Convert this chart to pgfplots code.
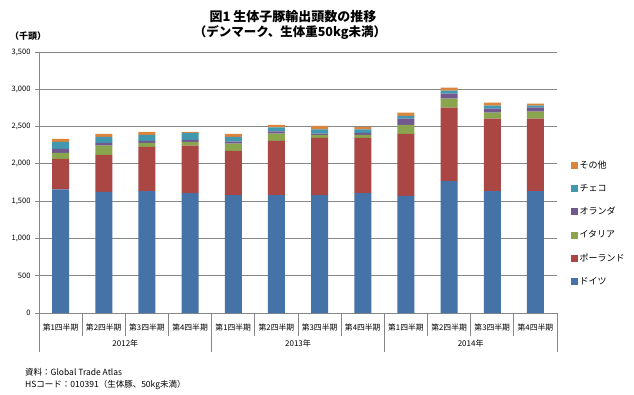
\documentclass[border=0pt]{standalone}
\usepackage{pgfplots}
\pgfplotsset{compat=1.18}
\usepackage{fontspec}
\setmainfont{Noto Sans CJK JP}
\definecolor{c1}{HTML}{4572A7}
\definecolor{c2}{HTML}{AA4643}
\definecolor{c3}{HTML}{89A54E}
\definecolor{c4}{HTML}{71588F}
\definecolor{c5}{HTML}{4198AF}
\definecolor{c6}{HTML}{DB843D}
\definecolor{axgray}{HTML}{868686}
\begin{document}
\begin{tikzpicture}
\path[use as bounding box] (0,0) rectangle (634pt,394pt);
\begin{axis}[
  at={(39pt,81pt)}, anchor=south west,
  scale only axis, width=518pt, height=261pt,
  ybar stacked, bar width=17pt,
  xmin=-0.5, xmax=11.5, ymin=0, ymax=3500,
  clip=false,
  axis x line*=bottom, axis y line*=left,
  axis line style={draw=axgray, line width=0.8pt},
  ytick={0,500,...,3500},
  ymajorgrids, grid style={draw=axgray, line width=0.8pt},
  tick align=outside,
  ytick style={draw=axgray, line width=0.8pt},
  major tick length=4pt,
  /pgf/number format/assume math mode=true,
  /pgf/number format/1000 sep={,},
  yticklabel style={font=\fontsize{7.5}{8}\selectfont, xshift=-1pt},
  xtick={0,...,11},
  xticklabels={第1四半期,第2四半期,第3四半期,第4四半期,第1四半期,第2四半期,第3四半期,第4四半期,第1四半期,第2四半期,第3四半期,第4四半期},
  xticklabel style={font=\fontsize{7.8}{9}\selectfont, yshift=-3pt},
  x tick style={draw=none},
  legend style={draw=none, fill=none, at={(rel axis cs:1.02,0.60)}, anchor=north west,
    font=\fontsize{9}{10}\selectfont, row sep=10.5pt},
  legend cell align=left,
  reverse legend,
  legend image code/.code={\fill[#1] (0pt,-3.5pt) rectangle (7pt,3.5pt);},
]
\addplot[fill=c1, draw=none] coordinates {(0,1658) (1,1625) (2,1635) (3,1608) (4,1581) (5,1581) (6,1581) (7,1608) (8,1571) (9,1770) (10,1635) (11,1635)};
\addplot[fill=c2, draw=none] coordinates {(0,408) (1,495) (2,593) (3,637) (4,593) (5,728) (6,768) (7,741) (8,832) (9,983) (10,970) (11,970)};
\addplot[fill=c3, draw=none] coordinates {(0,81) (1,125) (2,54) (3,50) (4,98) (5,98) (6,41) (7,41) (8,121) (9,122) (10,81) (11,95)};
\addplot[fill=c4, draw=none] coordinates {(0,54) (1,37) (2,27) (3,27) (4,27) (5,27) (6,17) (7,27) (8,81) (9,67) (10,54) (11,53)};
\addplot[fill=c5, draw=none] coordinates {(0,94) (1,80) (2,81) (3,95) (4,63) (5,54) (6,54) (7,44) (8,40) (9,41) (10,40) (11,27)};
\addplot[fill=c6, draw=none] coordinates {(0,41) (1,41) (2,40) (3,13) (4,41) (5,36) (6,50) (7,36) (8,41) (9,40) (10,41) (11,27)};
\legend{ドイツ,ポーランド,イタリア,オランダ,チェコ,その他}
\draw[axgray, line width=0.8pt] (axis cs:0.5,0) -- ([yshift=-23pt]axis cs:0.5,0);
\draw[axgray, line width=0.8pt] (axis cs:1.5,0) -- ([yshift=-23pt]axis cs:1.5,0);
\draw[axgray, line width=0.8pt] (axis cs:2.5,0) -- ([yshift=-23pt]axis cs:2.5,0);
\draw[axgray, line width=0.8pt] (axis cs:4.5,0) -- ([yshift=-23pt]axis cs:4.5,0);
\draw[axgray, line width=0.8pt] (axis cs:5.5,0) -- ([yshift=-23pt]axis cs:5.5,0);
\draw[axgray, line width=0.8pt] (axis cs:6.5,0) -- ([yshift=-23pt]axis cs:6.5,0);
\draw[axgray, line width=0.8pt] (axis cs:8.5,0) -- ([yshift=-23pt]axis cs:8.5,0);
\draw[axgray, line width=0.8pt] (axis cs:9.5,0) -- ([yshift=-23pt]axis cs:9.5,0);
\draw[axgray, line width=0.8pt] (axis cs:10.5,0) -- ([yshift=-23pt]axis cs:10.5,0);
\draw[axgray, line width=0.8pt] (axis cs:-0.5,0) -- ([yshift=-39pt]axis cs:-0.5,0);
\draw[axgray, line width=0.8pt] (axis cs:3.5,0) -- ([yshift=-39pt]axis cs:3.5,0);
\draw[axgray, line width=0.8pt] (axis cs:7.5,0) -- ([yshift=-39pt]axis cs:7.5,0);
\draw[axgray, line width=0.8pt] (axis cs:11.5,0) -- ([yshift=-39pt]axis cs:11.5,0);
\node[font=\fontsize{8}{9}\selectfont] at ([yshift=-30pt]axis cs:1.5,0) {2012年};
\node[font=\fontsize{8}{9}\selectfont] at ([yshift=-30pt]axis cs:5.5,0) {2013年};
\node[font=\fontsize{8}{9}\selectfont] at ([yshift=-30pt]axis cs:9.5,0) {2014年};
\end{axis}
\node[font=\bfseries\fontsize{13}{15}\selectfont] at (293pt,377pt) {図1\ 生体子豚輸出頭数の推移};
\node[font=\bfseries\fontsize{12.5}{15}\selectfont] at (290pt,361pt) {（デンマーク、生体重50kg未満）};
\node[font=\bfseries\fontsize{9}{10}\selectfont] at (28pt,358pt) {（千頭）};
\node[anchor=west, font=\fontsize{8.5}{10}\selectfont, inner sep=0pt] at (25pt,22pt) {資料：Global Trade Atlas};
\node[anchor=west, font=\fontsize{8.5}{10}\selectfont, inner sep=0pt] at (25pt,9pt) {HSコード：010391（生体豚、50kg未満）};
\end{tikzpicture}
\end{document}
